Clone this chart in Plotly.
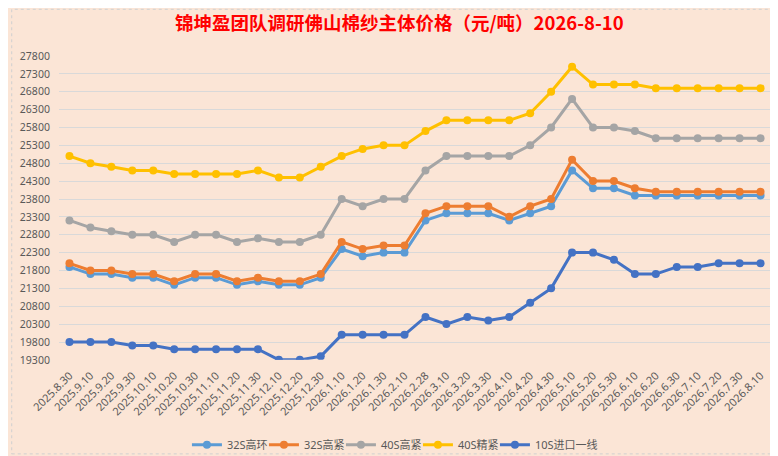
import plotly.graph_objects as go

dates = ["2025.8.30", "2025.9.10", "2025.9.20", "2025.9.30", "2025.10.10", "2025.10.20",
         "2025.10.30", "2025.11.10", "2025.11.20", "2025.11.30", "2025.12.10", "2025.12.20",
         "2025.12.30", "2026.1.10", "2026.1.20", "2026.1.30", "2026.2.10", "2026.2.28",
         "2026.3.10", "2026.3.20", "2026.3.30", "2026.4.10", "2026.4.20", "2026.4.30",
         "2026.5.10", "2026.5.20", "2026.5.30", "2026.6.10", "2026.6.20", "2026.6.30",
         "2026.7.10", "2026.7.20", "2026.7.30", "2026.8.10"]

s32_huan = [21900, 21700, 21700, 21600, 21600, 21400, 21600, 21600, 21400, 21500, 21400, 21400,
            21600, 22400, 22200, 22300, 22300, 23200, 23400, 23400, 23400, 23200, 23400, 23600,
            24600, 24100, 24100, 23900, 23900, 23900, 23900, 23900, 23900, 23900]
s32_jin = [22000, 21800, 21800, 21700, 21700, 21500, 21700, 21700, 21500, 21600, 21500, 21500,
           21700, 22600, 22400, 22500, 22500, 23400, 23600, 23600, 23600, 23300, 23600, 23800,
           24900, 24300, 24300, 24100, 24000, 24000, 24000, 24000, 24000, 24000]
s40_jin = [23200, 23000, 22900, 22800, 22800, 22600, 22800, 22800, 22600, 22700, 22600, 22600,
           22800, 23800, 23600, 23800, 23800, 24600, 25000, 25000, 25000, 25000, 25300, 25800,
           26600, 25800, 25800, 25700, 25500, 25500, 25500, 25500, 25500, 25500]
s40_jing = [25000, 24800, 24700, 24600, 24600, 24500, 24500, 24500, 24500, 24600, 24400, 24400,
            24700, 25000, 25200, 25300, 25300, 25700, 26000, 26000, 26000, 26000, 26200, 26800,
            27500, 27000, 27000, 27000, 26900, 26900, 26900, 26900, 26900, 26900]
s10_import = [19800, 19800, 19800, 19700, 19700, 19600, 19600, 19600, 19600, 19600, 19300, 19300,
              19400, 20000, 20000, 20000, 20000, 20500, 20300, 20500, 20400, 20500, 20900, 21300,
              22300, 22300, 22100, 21700, 21700, 21900, 21900, 22000, 22000, 22000]

series = [
    ("32S高环", s32_huan, "#5B9BD5"),
    ("32S高紧", s32_jin, "#ED7D31"),
    ("40S高紧", s40_jin, "#A5A5A5"),
    ("40S精紧", s40_jing, "#FFC000"),
    ("10S进口一线", s10_import, "#4472C4"),
]

font_family = "Noto Sans, Noto Sans CJK SC, sans-serif"
bg = "#FBE5D6"

fig = go.Figure()
for name, vals, color in series:
    fig.add_trace(go.Scatter(
        x=dates, y=vals, name=name, mode="lines+markers",
        line=dict(color=color, width=3),
        marker=dict(color=color, size=8),
    ))

# empty legend entry so the last (long) label isn't clipped by entrywidth
fig.add_trace(go.Scatter(x=[None], y=[None], name=" ", mode="lines",
                         line=dict(width=0, color=bg), hoverinfo="skip"))

fig.update_layout(
    width=778, height=456,
    paper_bgcolor=bg, plot_bgcolor=bg,
    margin=dict(l=48, r=15, t=48, b=97),
    font=dict(family=font_family, size=10, color="#595959"),
    title=dict(
        text="<b>锦坤盈团队调研佛山棉纱主体价格（元/吨）2026-8-10</b>",
        font=dict(family="Noto Sans CJK SC, sans-serif", size=18.5, color="#FF0000"),
        x=0.503, xref="container", xanchor="center",
        y=0.966, yref="container", yanchor="middle",
    ),
    legend=dict(
        orientation="h", xref="container", x=0.230, xanchor="left",
        yref="container", y=0.042, yanchor="middle",
        font=dict(size=11, color="#595959"),
        itemwidth=30, entrywidth=32, bgcolor="rgba(0,0,0,0)",
    ),
    showlegend=True,
)

fig.update_xaxes(
    type="category", range=[-0.5, len(dates) - 0.5],
    tickangle=-45, showgrid=False, showline=False, zeroline=False,
    ticks="outside", ticklen=4, tickcolor=bg,
    tickfont=dict(size=11, color="#595959"),
)
fig.update_yaxes(
    range=[19300, 27800], tick0=19300, dtick=500, tickformat="d",
    showgrid=True, gridcolor="#D9D9D9", gridwidth=1,
    zeroline=False, showline=False,
    ticks="outside", ticklen=6, tickcolor=bg,
    tickfont=dict(size=10.5, color="#595959"),
)

# dotted chart border
fig.add_shape(type="rect", xref="paper", yref="paper",
              x0=-0.0664, x1=1.0203, y0=-0.3093, y1=1.1537,
              line=dict(color="#D0D0D0", width=1, dash="dot"), layer="below")

fig.write_html("out.html")
